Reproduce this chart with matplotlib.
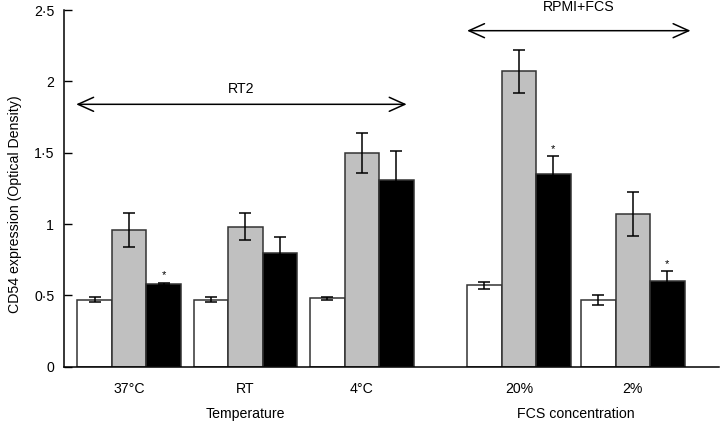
import matplotlib
matplotlib.use('Agg')
import matplotlib.pyplot as plt
import numpy as np

plt.rcParams['font.family'] = ['Liberation Sans', 'DejaVu Sans']

# data
categories = ['37°C', 'RT', '4°C', '20%', '2%']
white = [0.47, 0.47, 0.48, 0.57, 0.47]
white_err = [0.02, 0.02, 0.012, 0.025, 0.035]
grey = [0.96, 0.98, 1.50, 2.07, 1.07]
grey_err = [0.12, 0.095, 0.14, 0.15, 0.155]
black = [0.58, 0.80, 1.31, 1.35, 0.60]
black_err = [0.01, 0.11, 0.205, 0.125, 0.07]
signif = [True, False, False, True, True]

group_names = ['Temperature', 'FCS concentration']
bracket_names = ['RT2', 'RPMI+FCS']

# layout
group_x = np.array([0, 1, 2, 3.35, 4.33])
w = 0.297

fig = plt.figure(figsize=(7.2, 4.25), dpi=100)
ax = fig.add_axes([64/720, 58.3/425, 655/720, 356.7/425])

errkw = dict(ecolor='black', elinewidth=1.1, capsize=4.3, capthick=1.1)
for vals, errs, col, off in [(white, white_err, 'white', -w),
                             (grey, grey_err, '#c0c0c0', 0),
                             (black, black_err, 'black', w)]:
    ax.bar(group_x + off, vals, w, yerr=errs, color=col, edgecolor='#333333',
           linewidth=1.1, error_kw=errkw, zorder=2)

# significance stars
for i, s in enumerate(signif):
    if s:
        ax.text(group_x[i] + w, black[i] + black_err[i] + 0.015, '*',
                ha='center', va='bottom', fontsize=8)

ax.set_xlim(-0.56, 5.07)
ax.set_ylim(0, 2.5)
yt = [0, 0.5, 1, 1.5, 2, 2.5]
ax.set_yticks(yt)
ax.set_yticklabels([('%g' % v).replace('.', '\u00b7') for v in yt], fontsize=10.2)
ax.tick_params(axis='y', direction='in', length=5.5, width=1, pad=7)
ax.set_xticks(group_x)
ax.set_xticklabels(categories, fontsize=10.2)
ax.tick_params(axis='x', length=0, pad=11)

for sp in ['top', 'right']:
    ax.spines[sp].set_visible(False)
ax.spines['left'].set_linewidth(1.1)
ax.spines['bottom'].set_linewidth(1.1)

ax.set_ylabel('CD54 expression (Optical Density)', fontsize=10.2)
ax.yaxis.set_label_coords(-0.064, 0.457)

trans = ax.get_xaxis_transform()
ax.text(group_x[1], -0.133, group_names[0], transform=trans, ha='center',
        va='center', fontsize=10.2)
ax.text((group_x[3] + group_x[4]) / 2, -0.133, group_names[1], transform=trans,
        ha='center', va='center', fontsize=10.2)

# bracket arrows
arrow = dict(arrowstyle='<->,head_length=0.8,head_width=0.36', color='black',
             lw=1.1, mutation_scale=14, shrinkA=0, shrinkB=0)
x0, x1 = group_x[0] - 1.5 * w - 0.01, group_x[2] + 1.5 * w - 0.06
ax.annotate('', xy=(x1, 1.839), xytext=(x0, 1.839), arrowprops=arrow)
ax.text((x0 + x1) / 2, 1.946, bracket_names[0], ha='center', va='center',
        fontsize=10.2)
x0, x1 = group_x[3] - 1.5 * w, group_x[4] + 1.5 * w + 0.05
ax.annotate('', xy=(x1, 2.355), xytext=(x0, 2.355), arrowprops=arrow,
            annotation_clip=False)
ax.text((x0 + x1) / 2, 2.518, bracket_names[1], ha='center', va='center',
        fontsize=10.2, clip_on=False)

fig.savefig('out.png', dpi=100)
